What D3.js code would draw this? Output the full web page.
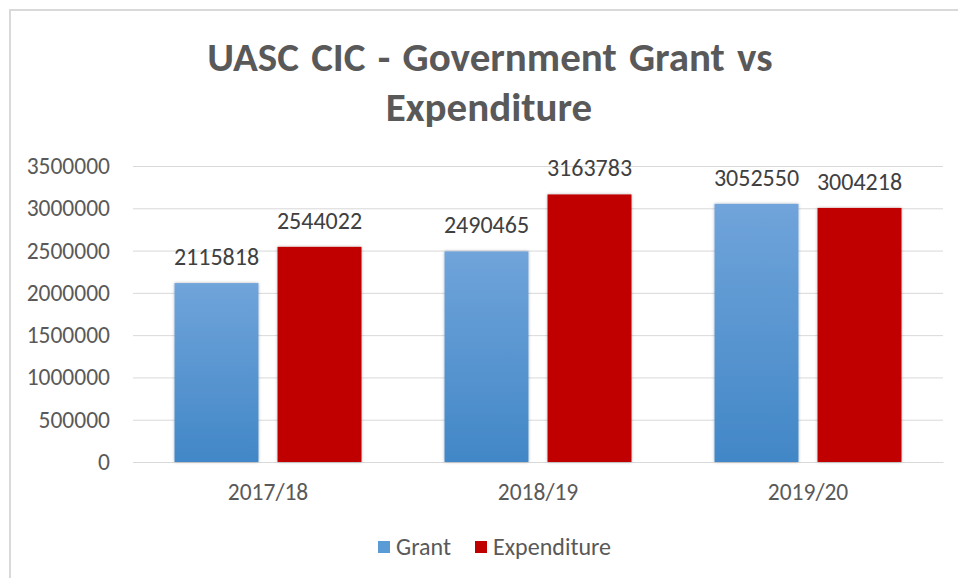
<!DOCTYPE html>
<html>
<head>
<meta charset="utf-8">
<script src="https://cdnjs.cloudflare.com/ajax/libs/d3/7.8.5/d3.min.js"></script>
<style>
  body { margin: 0; background: #fff; }
  svg { display: block; font-family: Carlito, "Open Sans", sans-serif; }
</style>
</head>
<body>
<svg id="chart" width="958" height="578"></svg>
<script>
var years = ["2017/18", "2018/19", "2019/20"];
var seriesNames = ["Grant", "Expenditure"];
var grant = [2115818, 2490465, 3052550];
var expenditure = [2544022, 3163783, 3004218];
var yTicks = [0, 500000, 1000000, 1500000, 2000000, 2500000, 3000000, 3500000];

var svg = d3.select("#chart"),
    margin = { top: 166, right: 15, bottom: 116, left: 133 },
    width = +svg.attr("width") - margin.left - margin.right,
    height = +svg.attr("height") - margin.top - margin.bottom;

// outer frame
svg.append("path")
    .attr("d", "M10,578 V10 H958")
    .attr("fill", "none")
    .attr("stroke", "#d9d9d9")
    .attr("stroke-width", 2);

var defs = svg.append("defs");
var grad = defs.append("linearGradient")
    .attr("id", "grantGrad")
    .attr("x1", 0).attr("y1", 0).attr("x2", 0).attr("y2", 1);
grad.append("stop").attr("offset", "0%").attr("stop-color", "#70a4da");
grad.append("stop").attr("offset", "100%").attr("stop-color", "#4287c7");

var shadow = defs.append("filter")
    .attr("id", "shadow")
    .attr("x", "-20%").attr("y", "-20%").attr("width", "140%").attr("height", "140%");
shadow.append("feDropShadow")
    .attr("dx", 0).attr("dy", 0)
    .attr("stdDeviation", 1.5)
    .attr("flood-color", "#000")
    .attr("flood-opacity", 0.3);

var colors = { Grant: "url(#grantGrad)", Expenditure: "#c00000" };
var legendColors = { Grant: "#5b9bd5", Expenditure: "#c00000" };

var data = years.map(function(y, i) {
    return { year: y, values: [
        { key: "Grant", value: grant[i] },
        { key: "Expenditure", value: expenditure[i] }
    ] };
});

var x0 = d3.scaleBand().domain(years).range([0, width]).padding(0);
var x1 = d3.scaleBand().domain(seriesNames)
    .range([41.5, x0.bandwidth() - 41.5])
    .paddingInner(0.185).paddingOuter(0);
var y = d3.scaleLinear().domain([0, 3500000]).range([height, 0]);

var g = svg.append("g")
    .attr("transform", "translate(" + margin.left + "," + margin.top + ")");

// title
svg.append("text")
    .attr("x", 490).attr("y", 71)
    .attr("text-anchor", "middle")
    .attr("font-size", 41).attr("font-weight", "bold")
    .attr("fill", "#595959")
    .attr("word-spacing", 3)
    .text("UASC CIC - Government Grant vs");
svg.append("text")
    .attr("x", 489).attr("y", 121)
    .attr("text-anchor", "middle")
    .attr("font-size", 41).attr("font-weight", "bold")
    .attr("fill", "#595959")
    .text("Expenditure");

// gridlines
g.append("g")
    .call(d3.axisLeft(y).tickValues(yTicks).tickSize(-width).tickFormat(""))
    .call(function(a) {
        a.select(".domain").remove();
        a.selectAll("line").attr("stroke", "#d9d9d9");
    });

// y tick labels
g.append("g")
    .call(d3.axisLeft(y).tickValues(yTicks).tickSize(0).tickPadding(23).tickFormat(d3.format("d")))
    .call(function(a) {
        a.select(".domain").remove();
        a.selectAll("text")
            .attr("font-size", 23.5)
            .attr("font-family", "Carlito, 'Open Sans', sans-serif")
            .attr("fill", "#595959");
    });

// x axis
g.append("g")
    .attr("transform", "translate(0," + height + ")")
    .call(d3.axisBottom(x0).tickSize(0).tickPadding(21))
    .call(function(a) {
        a.select(".domain").attr("stroke", "#d9d9d9");
        a.selectAll("text")
            .attr("font-size", 23.5)
            .attr("font-family", "Carlito, 'Open Sans', sans-serif")
            .attr("fill", "#595959");
    });

var groups = g.selectAll(".group")
    .data(data)
    .enter().append("g")
    .attr("class", "group")
    .attr("transform", function(d) { return "translate(" + x0(d.year) + ",0)"; });

groups.selectAll("rect")
    .data(function(d) { return d.values; })
    .enter().append("rect")
    .attr("x", function(d) { return x1(d.key); })
    .attr("width", x1.bandwidth())
    .attr("y", function(d) { return y(d.value); })
    .attr("height", function(d) { return height - y(d.value); })
    .attr("fill", function(d) { return colors[d.key]; })
    .attr("filter", "url(#shadow)");

groups.selectAll(".val")
    .data(function(d) { return d.values; })
    .enter().append("text")
    .attr("class", "val")
    .attr("x", function(d) { return x1(d.key) + x1.bandwidth() / 2; })
    .attr("y", function(d) { return y(d.value) - 18; })
    .attr("text-anchor", "middle")
    .attr("font-size", 24)
    .attr("fill", "#404040")
    .text(function(d) { return d.value; });

// legend
var legend = svg.append("g").attr("transform", "translate(378,547)");
var lx = [0, 97];
seriesNames.forEach(function(s, i) {
    legend.append("rect")
        .attr("x", lx[i]).attr("y", -6)
        .attr("width", 12).attr("height", 12)
        .attr("fill", legendColors[s]);
    legend.append("text")
        .attr("x", lx[i] + 18).attr("y", 8)
        .attr("font-size", 24)
        .attr("fill", "#595959")
        .text(s);
});
</script>
</body>
</html>
